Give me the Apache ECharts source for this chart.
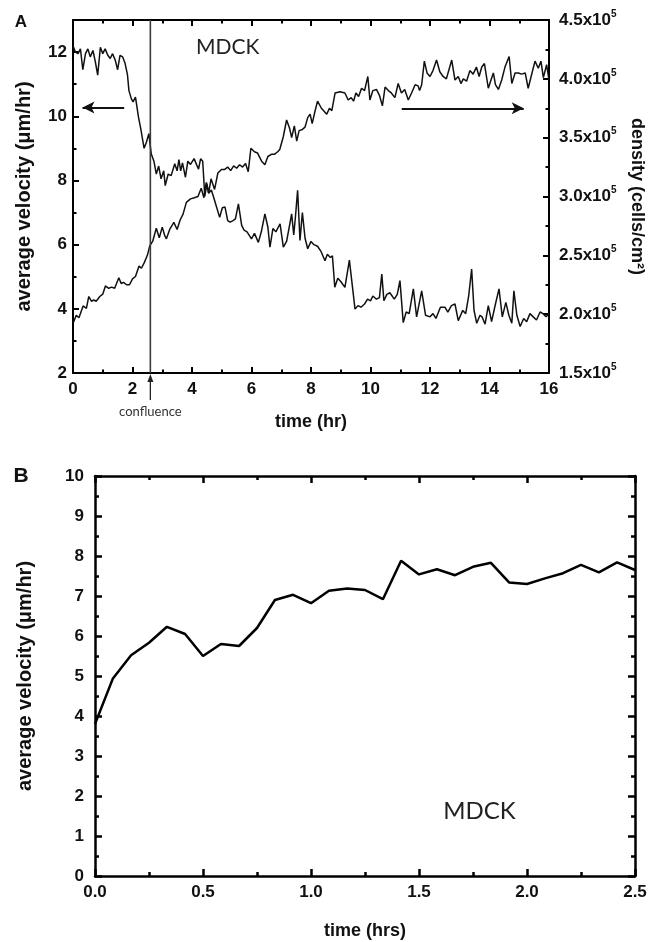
<!DOCTYPE html>
<html><head><meta charset="utf-8">
<script src="https://cdn.jsdelivr.net/npm/echarts@6/dist/echarts.min.js"></script>
<style>html,body{margin:0;padding:0;background:#fff}#c{width:662px;height:942px}</style>
</head><body><div id="c"></div>
<script>
// ---------- Panel A: average velocity (left axis) ----------
const velocityTime = [0,0.08,0.17,0.25,0.33,0.42,0.5,0.58,0.67,0.75,0.83,0.92,1.0,1.08,1.17,1.25,1.33,1.42,1.5,1.58,1.67,1.75,1.83,1.88,1.96,2.02,2.1,2.2,2.28,2.39,2.47,2.55,2.63,2.72,2.8,2.88,2.96,3.05,3.1,3.2,3.3,3.42,3.5,3.56,3.62,3.68,3.78,3.86,3.95,4.07,4.15,4.22,4.29,4.36,4.43,4.5,4.56,4.65,4.72,4.8,4.93,5.02,5.11,5.2,5.28,5.38,5.46,5.56,5.67,5.75,5.85,6.0,6.1,6.23,6.33,6.45,6.55,6.62,6.72,6.82,6.96,7.07,7.18,7.35,7.42,7.48,7.55,7.63,7.71,7.8,7.89,8.0,8.1,8.22,8.33,8.47,8.55,8.65,8.72,8.8,8.9,9.0,9.14,9.29,9.48,9.58,9.68,9.8,9.9,10.0,10.08,10.2,10.3,10.38,10.45,10.55,10.65,10.8,10.9,10.99,11.1,11.2,11.3,11.44,11.55,11.72,11.85,12.0,12.1,12.2,12.35,12.5,12.6,12.72,12.84,12.95,13.1,13.2,13.3,13.4,13.48,13.57,13.68,13.75,13.85,13.96,14.07,14.2,14.32,14.43,14.55,14.65,14.75,14.82,14.92,15.03,15.15,15.25,15.36,15.47,15.58,15.7,15.8,15.9,16.0];
const velocityValues = [12.2,12.0,11.95,12.1,11.45,11.95,12.1,11.85,12.05,11.7,11.28,12.15,11.95,12.1,11.9,11.8,11.95,11.75,11.45,11.9,11.85,11.65,11.3,10.8,10.55,10.45,10.6,9.98,9.6,9.0,9.2,9.46,8.83,8.6,8.2,8.45,8.05,8.3,7.84,8.2,8.15,8.52,8.3,8.65,8.3,8.55,8.1,8.6,8.5,8.68,8.5,8.35,8.68,8.6,7.5,7.9,7.6,7.7,7.5,7.25,6.85,7.15,7.17,6.75,6.7,6.75,6.8,7.27,6.6,6.45,6.4,6.18,6.35,6.07,6.4,6.96,6.55,5.92,6.5,6.4,6.65,5.92,6.1,6.96,6.3,6.9,7.69,6.13,7.0,6.2,5.87,6.1,6.0,5.95,5.8,5.5,5.7,5.6,5.65,4.67,4.95,4.85,4.67,5.52,3.99,4.1,4.05,4.15,4.3,4.25,4.4,4.3,4.35,5.08,4.25,4.45,4.5,4.3,4.45,4.88,3.57,3.9,3.85,4.62,3.75,4.56,3.8,3.75,3.85,3.7,4.05,4.05,3.9,4.1,4.15,3.63,3.95,3.85,4.4,5.24,3.95,3.55,3.8,3.75,3.52,4.1,3.6,4.15,4.62,3.75,4.2,3.8,3.55,4.56,3.8,3.45,3.7,3.6,3.85,3.75,3.65,3.9,3.85,3.75,3.85];

// ---------- Panel A: density (right axis, x10^5 cells/cm^2) ----------
const densityTime = [0,0.11,0.2,0.34,0.45,0.53,0.62,0.7,0.78,0.9,1.0,1.09,1.2,1.3,1.4,1.54,1.62,1.7,1.8,1.9,2.0,2.1,2.22,2.3,2.4,2.5,2.58,2.68,2.8,2.9,3.0,3.08,3.14,3.25,3.39,3.5,3.6,3.7,3.81,3.95,4.08,4.2,4.31,4.4,4.48,4.56,4.64,4.76,4.87,4.99,5.1,5.2,5.3,5.4,5.5,5.6,5.7,5.8,5.89,5.98,6.1,6.2,6.34,6.45,6.55,6.68,6.78,6.88,6.95,7.07,7.18,7.28,7.35,7.44,7.52,7.6,7.71,7.8,7.89,7.97,8.04,8.13,8.22,8.35,8.53,8.62,8.7,8.81,8.98,9.14,9.25,9.35,9.43,9.51,9.6,9.7,9.8,9.91,9.98,10.08,10.2,10.3,10.4,10.49,10.6,10.7,10.82,10.93,11.04,11.15,11.27,11.38,11.5,11.6,11.65,11.72,11.81,11.9,12.0,12.1,12.22,12.33,12.44,12.55,12.73,12.84,12.95,13.04,13.12,13.23,13.34,13.45,13.56,13.65,13.74,13.83,13.96,14.05,14.13,14.2,14.3,14.41,14.52,14.66,14.75,14.86,14.97,15.08,15.2,15.3,15.41,15.53,15.64,15.73,15.81,15.92,16.0];
const densityValues = [1.92,1.99,1.97,2.07,2.05,2.15,2.11,2.12,2.11,2.15,2.17,2.24,2.22,2.23,2.22,2.31,2.26,2.27,2.25,2.25,2.3,2.32,2.41,2.39,2.44,2.5,2.58,2.62,2.73,2.65,2.74,2.67,2.64,2.72,2.78,2.72,2.8,2.85,2.95,2.98,2.99,3.0,3.07,2.99,3.12,3.03,3.15,3.06,3.2,3.23,3.23,3.25,3.22,3.26,3.24,3.27,3.25,3.28,3.21,3.41,3.38,3.37,3.3,3.27,3.34,3.36,3.36,3.38,3.4,3.51,3.65,3.58,3.5,3.6,3.47,3.56,3.57,3.59,3.67,3.7,3.62,3.72,3.81,3.75,3.7,3.75,3.73,3.88,3.89,3.88,3.82,3.84,3.81,3.88,3.85,3.92,3.9,4.02,3.82,3.9,3.91,3.86,3.77,3.93,3.9,3.88,3.84,3.96,3.88,3.91,3.82,3.88,3.95,3.94,3.9,3.95,4.15,4.05,4.02,4.07,4.16,4.06,4.02,4.0,4.16,3.99,4.02,3.96,4.0,3.98,4.07,4.04,4.1,4.02,4.1,4.13,3.92,3.99,4.05,3.95,3.91,3.99,4.1,4.19,3.96,4.05,4.05,4.04,4.05,3.92,4.03,4.15,4.09,4.15,4.01,4.12,3.99];

// ---------- Panel B ----------
const bTime = [0,0.083,0.167,0.25,0.333,0.417,0.5,0.583,0.667,0.75,0.833,0.917,1.0,1.083,1.167,1.25,1.333,1.417,1.5,1.583,1.667,1.75,1.833,1.917,2.0,2.083,2.167,2.25,2.333,2.417,2.5];
const bVelocity = [3.8,4.94,5.52,5.83,6.23,6.05,5.5,5.8,5.75,6.2,6.9,7.03,6.82,7.13,7.19,7.15,6.92,7.88,7.54,7.67,7.52,7.73,7.83,7.34,7.3,7.44,7.57,7.78,7.59,7.84,7.65];

// annotations (data coordinates)
const confluenceTime = 2.6;
const leftArrow = [[1.72, 10.27], [0.32, 10.27]];
const rightArrow = [[11.05, 10.25], [15.15, 10.25]];
const mdckA = [5.2, 12.15];
const mdckB = [1.78, 1.62];

const F = '"Liberation Sans", Arial, sans-serif';
const FT = 'Lato, "Open Sans", sans-serif';

function frame(w, majorLen, minorLen) {
  return {
    axisLine: {show: true, onZero: false, lineStyle: {color: '#000', width: w}},
    axisTick: {show: true, inside: true, length: majorLen, lineStyle: {color: '#000', width: w}},
    minorTick: {show: true, splitNumber: 2, length: minorLen, lineStyle: {color: '#000', width: w}},
    splitLine: {show: false}, minorSplitLine: {show: false}
  };
}
const lbl = (size, margin, extra) => Object.assign({fontFamily: F, fontWeight: 'bold', fontSize: size, color: '#111', margin: margin}, extra || {});
const nameStyle = (size) => ({fontFamily: F, fontWeight: 'bold', fontSize: size, color: '#111'});

const option = {
  animation: false,
  backgroundColor: '#fff',
  grid: [
    {left: 73, top: 20, width: 476, height: 353},
    {left: 95, top: 476, width: 540, height: 400}
  ],
  xAxis: [
    Object.assign({gridIndex: 0, type: 'value', position: 'bottom', min: 0, max: 16, interval: 2,
      axisLabel: lbl(17, 8), name: 'time (hr)', nameLocation: 'middle', nameGap: 40, nameTextStyle: nameStyle(18)}, frame(2, 6, 3.5)),
    Object.assign({gridIndex: 0, type: 'value', position: 'top', min: 0, max: 16, interval: 2,
      axisLabel: {show: false}}, frame(2, 6, 3.5)),
    Object.assign({gridIndex: 1, type: 'value', position: 'bottom', min: 0, max: 2.5, interval: 0.5,
      axisLabel: lbl(17, 8, {formatter: v => v.toFixed(1)}), name: 'time (hrs)', nameLocation: 'middle', nameGap: 46, nameTextStyle: nameStyle(18)}, frame(2.5, 7, 4)),
    Object.assign({gridIndex: 1, type: 'value', position: 'top', min: 0, max: 2.5, interval: 0.5,
      axisLabel: {show: false}}, frame(2.5, 7, 4))
  ],
  yAxis: [
    Object.assign({gridIndex: 0, type: 'value', position: 'left', min: 2, max: 13, interval: 2,
      axisLabel: lbl(17, 6, {showMaxLabel: false}), name: 'average velocity (\u03bcm/hr)', nameLocation: 'middle', nameGap: 39, nameTextStyle: nameStyle(20)}, frame(2, 6, 3.5)),
    Object.assign({gridIndex: 0, type: 'value', position: 'right', min: 1.5, max: 4.5, interval: 0.5,
      axisLabel: {margin: 10, formatter: v => '{a|' + v.toFixed(1) + 'x10}{s|5}',
        rich: {a: {fontFamily: F, fontWeight: 'bold', fontSize: 17, color: '#111', lineHeight: 22},
               s: {fontFamily: F, fontWeight: 'bold', fontSize: 10, color: '#111', lineHeight: 4, verticalAlign: 'top'}}},
      name: 'density (cells/cm\u00b2)', nameLocation: 'middle', nameGap: 79, nameRotate: -90, nameTextStyle: nameStyle(18)}, frame(2, 6, 3.5)),
    Object.assign({gridIndex: 1, type: 'value', position: 'left', min: 0, max: 10, interval: 1,
      axisLabel: lbl(17, 11), name: 'average velocity (\u03bcm/hr)', nameLocation: 'middle', nameGap: 60, nameTextStyle: nameStyle(20)}, frame(2.5, 7, 4)),
    Object.assign({gridIndex: 1, type: 'value', position: 'right', min: 0, max: 10, interval: 1,
      axisLabel: {show: false}}, frame(2.5, 7, 4))
  ],
  series: [
    {type: 'line', xAxisIndex: 0, yAxisIndex: 0, showSymbol: false, symbol: 'none',
      lineStyle: {color: '#111', width: 1.5},
      data: velocityTime.map((t, i) => [t, velocityValues[i]]),
      markLine: {silent: true, symbol: ['none', 'arrow'], symbolSize: [9, 12], label: {show: false},
        lineStyle: {color: '#111', width: 2, type: 'solid'},
        data: [
          [{coord: leftArrow[0]}, {coord: leftArrow[1]}],
          [{coord: rightArrow[0]}, {coord: rightArrow[1]}]
        ]}},
    {type: 'line', xAxisIndex: 0, yAxisIndex: 1, showSymbol: false, symbol: 'none',
      lineStyle: {color: '#111', width: 1.5},
      data: densityTime.map((t, i) => [t, densityValues[i]])},
    {type: 'line', xAxisIndex: 2, yAxisIndex: 2, showSymbol: false, symbol: 'none',
      lineStyle: {color: '#000', width: 2.5},
      data: bTime.map((t, i) => [t, bVelocity[i]])}
  ]
};

const chart = echarts.init(document.getElementById('c'), null, {renderer: 'canvas'});
chart.setOption(option);

const cBottom = chart.convertToPixel({xAxisIndex: 0, yAxisIndex: 0}, [confluenceTime, 2]);
const cTop = chart.convertToPixel({xAxisIndex: 0, yAxisIndex: 0}, [confluenceTime, 13]);
const mA = chart.convertToPixel({xAxisIndex: 0, yAxisIndex: 0}, mdckA);
const mB = chart.convertToPixel({xAxisIndex: 2, yAxisIndex: 2}, mdckB);
const cx = cBottom[0], cy = cBottom[1];

chart.setOption({
  graphic: [
    {type: 'line', z: 50, shape: {x1: cx, y1: cTop[1], x2: cx, y2: cy}, style: {stroke: '#3a3a3a', lineWidth: 1.6}},
    {type: 'line', z: 50, shape: {x1: cx, y1: cy + 6, x2: cx, y2: cy + 27}, style: {stroke: '#222', lineWidth: 1.3}},
    {type: 'polygon', z: 50, shape: {points: [[cx, cy + 1], [cx - 3, cy + 9], [cx + 3, cy + 9]]}, style: {fill: '#222'}},
    {type: 'text', x: cx, y: cy + 39, style: {text: 'confluence', fontFamily: FT, fontSize: 13, fill: '#333', align: 'center', verticalAlign: 'middle'}},
    {type: 'text', x: mA[0], y: mA[1], style: {text: 'MDCK', fontFamily: FT, fontSize: 21, fill: '#222', align: 'center', verticalAlign: 'middle'}},
    {type: 'text', x: mB[0], y: mB[1], style: {text: 'MDCK', fontFamily: FT, fontSize: 24, fill: '#222', align: 'center', verticalAlign: 'middle'}},
    {type: 'text', x: 21, y: 22, style: {text: 'A', fontFamily: F, fontWeight: 'bold', fontSize: 17, fill: '#111', align: 'center', verticalAlign: 'middle'}},
    {type: 'text', x: 21, y: 476, style: {text: 'B', fontFamily: F, fontWeight: 'bold', fontSize: 21, fill: '#111', align: 'center', verticalAlign: 'middle'}}
  ]
});
</script>
</body></html>
